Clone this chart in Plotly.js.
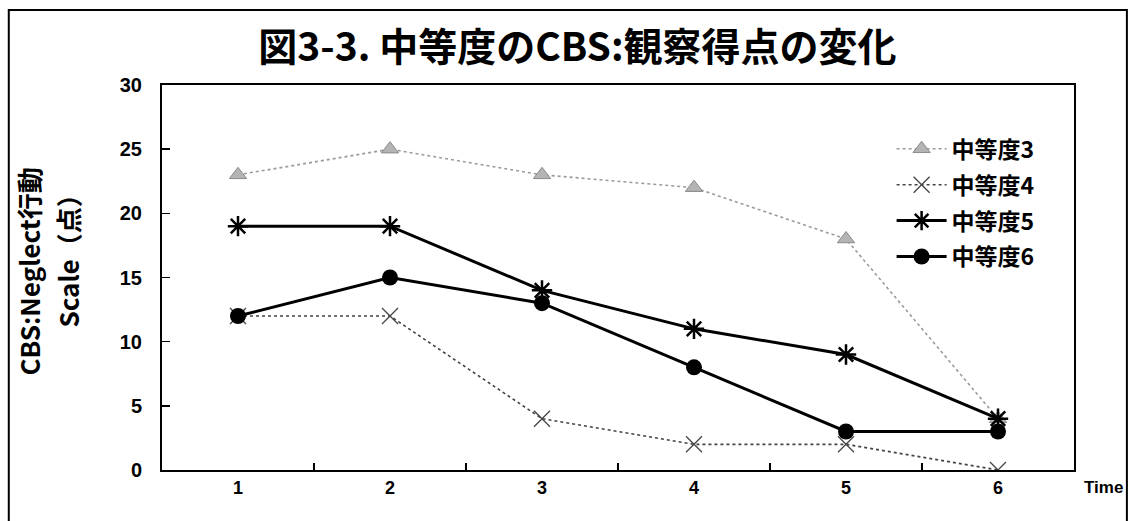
<!DOCTYPE html>
<html>
<head>
<meta charset="utf-8">
<script src="https://cdn.plot.ly/plotly-3.0.1.min.js"></script>
<style>
  html, body { margin: 0; padding: 0; background: #fff; }
  #chart { width: 1130px; height: 521px; }
</style>
</head>
<body>
<div id="chart"></div>
<script>
// Observation time points
const times = [1, 2, 3, 4, 5, 6];
const timeLabels = ['1', '2', '3', '4', '5', '6'];

// CBS Neglect scores per moderate-severity case
const case3 = [23, 25, 23, 22, 18, 4];
const case4 = [12, 12, 4, 2, 2, 0];
const case5 = [19, 19, 14, 11, 9, 4];
const case6 = [12, 15, 13, 8, 3, 3];

const seriesNames = ['中等度3', '中等度4', '中等度5', '中等度6'];

const yTicks = [0, 5, 10, 15, 20, 25, 30];

const FONT = '"Liberation Sans", Arial, "Noto Sans CJK JP", sans-serif';
const CJK = '"Noto Sans CJK JP", "Liberation Sans", sans-serif';

const bold = s => '<b>' + s + '</b>';

const traces = [
  {
    x: times, y: case3, name: bold(seriesNames[0]), legendgroup: 'g3', type: 'scatter', mode: 'lines+markers',
    line: { color: '#9a9a9a', width: 1.6, dash: 'dot' },
    marker: { symbol: 'triangle-up', size: 15, color: '#b4b4b4', line: { color: '#8a8a8a', width: 1 } }
  },
  {
    x: times, y: case4, name: bold(seriesNames[1]), legendgroup: 'g4', type: 'scatter', mode: 'lines+markers',
    line: { color: '#444', width: 1.6, dash: 'dot' },
    marker: { symbol: 'x-thin-open', size: 16, color: '#444', line: { color: '#444', width: 1.3 } }
  },
  {
    x: times, y: case5, name: bold(seriesNames[2]), legendgroup: 'g5', type: 'scatter', mode: 'lines+markers',
    line: { color: '#000', width: 3 },
    marker: { symbol: 'asterisk-open', size: 17, color: '#000', line: { color: '#000', width: 2.5 } }
  },
  {
    x: times, y: case6, name: bold(seriesNames[3]), legendgroup: 'g6', type: 'scatter', mode: 'lines+markers',
    line: { color: '#000', width: 3 },
    marker: { symbol: 'circle', size: 16, color: '#000' }
  },
  // Invisible carrier for the category-boundary tick axis
  {
    x: times, y: case6, xaxis: 'x2', yaxis: 'y', type: 'scatter', mode: 'markers',
    marker: { opacity: 0 }, showlegend: false, hoverinfo: 'skip'
  }
];

const layout = {
  width: 1130,
  height: 521,
  paper_bgcolor: '#fff',
  plot_bgcolor: '#fff',
  margin: { l: 162, r: 56, t: 85, b: 51 },
  font: { family: FONT, color: '#000' },
  title: {
    text: bold('図3-3. 中等度のCBS:観察得点の変化'),
    font: { family: CJK, size: 39, color: '#000' },
    x: 0.511, xanchor: 'center',
    y: 0.91, yanchor: 'middle'
  },
  showlegend: true,
  legend: {
    x: 0.8, y: 0.89, xanchor: 'left', yanchor: 'top',
    bgcolor: 'rgba(0,0,0,0)',
    font: { family: CJK, size: 23, color: '#000' },
    tracegroupgap: 3,
    itemwidth: 50
  },
  xaxis: {
    range: [0.5, 6.5],
    tickmode: 'array',
    tickvals: times,
    ticktext: timeLabels.map(bold),
    ticks: '',
    tickfont: { family: FONT, size: 18, color: '#000' },
    showgrid: false,
    zeroline: false,
    showline: true, linecolor: '#000', linewidth: 2, mirror: true,
    fixedrange: true
  },
  xaxis2: {
    overlaying: 'x',
    matches: 'x',
    range: [0.5, 6.5],
    tickmode: 'array',
    tickvals: [1.5, 2.5, 3.5, 4.5, 5.5],
    ticks: 'inside', ticklen: 7, tickwidth: 1.5, tickcolor: '#000',
    showticklabels: false,
    showgrid: false, zeroline: false, showline: false,
    side: 'bottom'
  },
  yaxis: {
    range: [0, 30],
    tickmode: 'array',
    tickvals: yTicks,
    ticktext: yTicks.map(bold),
    ticks: 'inside', ticklen: 8, tickwidth: 1.5, tickcolor: '#000',
    tickfont: { family: FONT, size: 20, color: '#000' },
    ticklabelstandoff: 14,
    showgrid: false,
    zeroline: false,
    showline: true, linecolor: '#000', linewidth: 2, mirror: true,
    fixedrange: true
  },
  annotations: [
    {
      text: bold('CBS:Neglect行動'),
      xref: 'paper', yref: 'paper', x: -0.146, y: 0.515,
      xanchor: 'center', yanchor: 'middle', textangle: -90, showarrow: false,
      font: { family: CJK, size: 26, color: '#000' }
    },
    {
      text: bold('Scale（点）'),
      xref: 'paper', yref: 'paper', x: -0.104, y: 0.56,
      xanchor: 'center', yanchor: 'middle', textangle: -90, showarrow: false,
      font: { family: CJK, size: 26, color: '#000' }
    },
    {
      text: bold('Time'),
      xref: 'paper', yref: 'paper', x: 1.009, y: -0.045,
      xanchor: 'left', yanchor: 'middle', showarrow: false,
      font: { family: FONT, size: 17, color: '#000' }
    }
  ],
  shapes: [
    {
      type: 'rect', xref: 'paper', yref: 'paper',
      x0: -0.168, x1: 1.058, y0: -0.2, y1: 1.195,
      line: { color: '#000', width: 2 }, fillcolor: 'rgba(0,0,0,0)', layer: 'below'
    }
  ]
};

Plotly.newPlot('chart', traces, layout, { staticPlot: true, displayModeBar: false });
</script>
</body>
</html>
